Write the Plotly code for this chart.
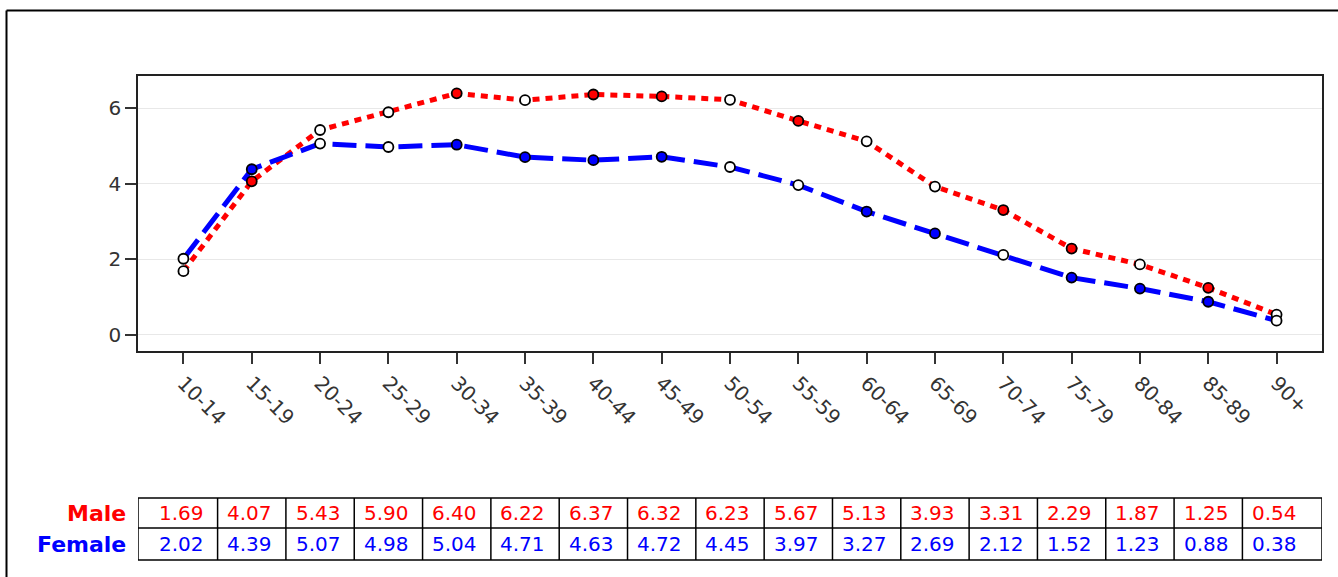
import plotly.graph_objects as go

# ---- data ----
age_groups = ["10-14", "15-19", "20-24", "25-29", "30-34", "35-39", "40-44", "45-49",
              "50-54", "55-59", "60-64", "65-69", "70-74", "75-79", "80-84", "85-89", "90+"]
male = [1.69, 4.07, 5.43, 5.90, 6.40, 6.22, 6.37, 6.32, 6.23, 5.67, 5.13, 3.93, 3.31, 2.29, 1.87, 1.25, 0.54]
female = [2.02, 4.39, 5.07, 4.98, 5.04, 4.71, 4.63, 4.72, 4.45, 3.97, 3.27, 2.69, 2.12, 1.52, 1.23, 0.88, 0.38]
y_ticks = [0, 2, 4, 6]
series_names = ["Male", "Female"]

# ---- style ----
RED = "#FF0000"
BLUE = "#0000FF"
male_fill_flags = [0, 1, 0, 0, 1, 0, 1, 1, 0, 1, 0, 0, 1, 1, 0, 1, 0]
female_fill_flags = [0, 1, 0, 0, 1, 1, 1, 1, 0, 0, 1, 1, 0, 1, 1, 1, 0]
FONT = "DejaVu Sans"

W, H = 1338, 577
PL, PR, PT, PB = 138, 1322, 76, 351  # plot area pixel box

def py(Y):
    return (PB - Y) / (PB - PT)

def px(X):
    return (X - PL) / (PR - PL)

n = len(age_groups)
xs = list(range(n))
xr = [-0.665, n - 1 + 0.665]

fig = go.Figure()
fig.add_trace(go.Scatter(x=xs, y=male, mode="lines", name="Male",
                         line=dict(color=RED, width=5, dash="7px,6px"), showlegend=False))
fig.add_trace(go.Scatter(x=xs, y=female, mode="lines", name="Female",
                         line=dict(color=BLUE, width=5, dash="24px,9px"), showlegend=False))
fig.add_trace(go.Scatter(x=xs, y=male, mode="markers", showlegend=False,
                         marker=dict(size=10, color=[RED if f else "white" for f in male_fill_flags],
                                     line=dict(color="black", width=1.8))))
fig.add_trace(go.Scatter(x=xs, y=female, mode="markers", showlegend=False,
                         marker=dict(size=10, color=[BLUE if f else "white" for f in female_fill_flags],
                                     line=dict(color="black", width=1.8))))

shapes = []
annotations = []
line_style = dict(color="black", width=1.5)
t_top, t_mid, t_bot = py(498), py(528), py(560)
for yy in (t_top, t_mid, t_bot):
    shapes.append(dict(type="line", xref="x", yref="paper", x0=xr[0], x1=xr[1], y0=yy, y1=yy, line=line_style))
vlines = [xr[0]] + [i + 0.5 for i in range(n - 1)] + [xr[1]]
for xv in vlines:
    shapes.append(dict(type="line", xref="x", yref="paper", x0=xv, x1=xv, y0=t_top, y1=t_bot, line=line_style))

rows = [(series_names[0], male, RED, py(513)), (series_names[1], female, BLUE, py(544))]
for name, vals, col, yc in rows:
    annotations.append(dict(xref="paper", yref="paper", x=px(128), y=yc, xanchor="right", yanchor="middle",
                            text="<b>%s</b>" % name, showarrow=False,
                            font=dict(family=FONT, size=22, color=col)))
    for i, v in enumerate(vals):
        annotations.append(dict(xref="x", yref="paper", x=i - 0.03, y=yc, xanchor="center", yanchor="middle",
                                text="%.2f" % v, showarrow=False,
                                font=dict(family=FONT, size=20, color=col)))

# outer border (left and top)
shapes.append(dict(type="line", xref="paper", yref="paper", x0=px(6.5), x1=px(6.5), y0=py(10.5), y1=py(600),
                   line=dict(color="black", width=2)))
shapes.append(dict(type="line", xref="paper", yref="paper", x0=px(6.5), x1=px(1360), y0=py(10.5), y1=py(10.5),
                   line=dict(color="black", width=2)))

fig.update_layout(
    width=W, height=H,
    margin=dict(l=PL, r=W - PR, t=PT, b=H - PB, pad=0),
    paper_bgcolor="white", plot_bgcolor="white",
    shapes=shapes, annotations=annotations,
    font=dict(family=FONT, color="#333333"),
)
fig.update_xaxes(range=xr, tickmode="array", tickvals=xs, ticktext=age_groups, tickangle=45,
                 ticks="outside", ticklen=11, tickwidth=1.5, tickcolor="#333333",
                 showline=True, linecolor="#222222", linewidth=1.5, mirror=True,
                 showgrid=False, zeroline=False,
                 tickfont=dict(family=FONT, size=20, color="#333333"))
fig.update_yaxes(range=[-0.424, 6.86], tickmode="array", tickvals=y_ticks,
                 ticks="outside", ticklen=11, tickwidth=1.5, tickcolor="#333333",
                 showline=True, linecolor="#222222", linewidth=1.5, mirror=True,
                 showgrid=True, gridcolor="#E8E8E8", gridwidth=1, zeroline=False,
                 tickfont=dict(family=FONT, size=20, color="#333333"))

fig.write_html("out.html", config={"displayModeBar": False},
               post_script="document.body.style.margin='0';document.body.style.overflow='hidden';")
